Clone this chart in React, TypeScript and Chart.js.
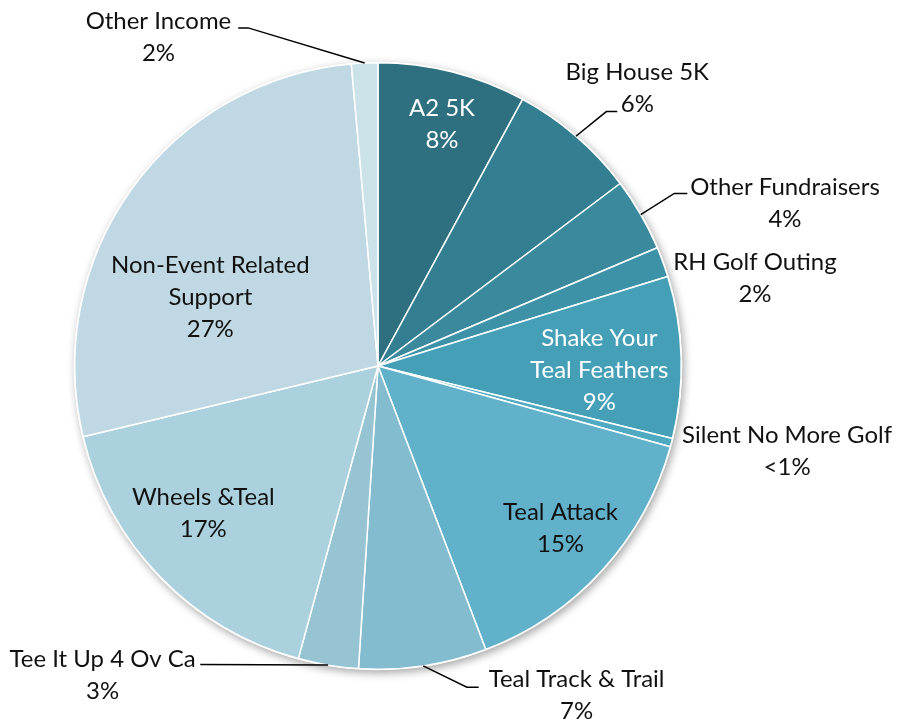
import React, { useEffect, useRef } from "react";
import { Chart, registerables } from "chart.js";

Chart.register(...registerables);

const categories = [
  "A2 5K",
  "Big House 5K",
  "Other Fundraisers",
  "RH Golf Outing",
  "Shake Your Teal Feathers",
  "Silent No More Golf",
  "Teal Attack",
  "Teal Track & Trail",
  "Tee It Up 4 Ov Ca",
  "Wheels &Teal",
  "Non-Event Related Support",
  "Other Income",
];

const shares = [7.9, 6.8, 3.9, 1.6, 8.6, 0.45, 14.9, 6.8, 3.2, 17.0, 27.3, 1.4];

const percentLabels = ["8%", "6%", "4%", "2%", "9%", "<1%", "15%", "7%", "3%", "17%", "27%", "2%"];

const labelLines = [
  ["A2 5K"],
  ["Big House 5K"],
  ["Other Fundraisers"],
  ["RH Golf Outing"],
  ["Shake Your", "Teal Feathers"],
  ["Silent No More Golf"],
  ["Teal Attack"],
  ["Teal Track & Trail"],
  ["Tee It Up 4 Ov Ca"],
  ["Wheels &Teal"],
  ["Non-Event Related", "Support"],
  ["Other Income"],
];

const colors = [
  "#2E6F80",
  "#347E92",
  "#3A899D",
  "#3E92A8",
  "#459FB7",
  "#4FA9C1",
  "#62B1CB",
  "#84BCCF",
  "#97C4D3",
  "#ABD0DE",
  "#BFD8E3",
  "#CCE2E9",
];

// label layout: first line centre, in radius units relative to pie centre
type LabelLayout = {
  pos: [number, number];
  color: string;
  leader?: [number, number][];
};

const labelLayout: LabelLayout[] = [
  { pos: [0.211, -0.849], color: "#ffffff" },
  { pos: [0.855, -0.967], color: "#111111", leader: [[0.753, -0.839], [0.789, -0.839]] },
  { pos: [1.342, -0.589], color: "#111111", leader: [[0.977, -0.569], [1.02, -0.569]] },
  { pos: [1.243, -0.342], color: "#111111" },
  { pos: [0.73, -0.092], color: "#ffffff" },
  { pos: [1.349, 0.227], color: "#111111" },
  { pos: [0.602, 0.484], color: "#111111" },
  { pos: [0.655, 1.033], color: "#111111", leader: [[0.293, 1.059], [0.332, 1.059]] },
  { pos: [-0.908, 0.967], color: "#111111", leader: [[-0.586, 0.984]] },
  { pos: [-0.576, 0.434], color: "#111111" },
  { pos: [-0.553, -0.332], color: "#111111" },
  { pos: [-0.724, -1.138], color: "#111111", leader: [[-0.428, -1.115], [-0.461, -1.115]] },
];

const FONT_FAMILY = "Lato, 'Noto Sans', sans-serif";

const shadowPlugin = {
  id: "pieShadow",
  beforeDatasetsDraw(chart: any) {
    const meta = chart.getDatasetMeta(0);
    const arc = meta.data[0];
    if (!arc) return;
    const ctx = chart.ctx;
    ctx.save();
    ctx.shadowColor = "rgba(0,0,0,0.35)";
    ctx.shadowBlur = 8;
    ctx.shadowOffsetX = 2;
    ctx.shadowOffsetY = 3;
    ctx.fillStyle = "#ffffff";
    ctx.beginPath();
    ctx.arc(arc.x, arc.y, arc.outerRadius + 1, 0, Math.PI * 2);
    ctx.fill();
    ctx.restore();
  },
};

const labelPlugin = {
  id: "pieLabels",
  afterDatasetsDraw(chart: any) {
    const meta = chart.getDatasetMeta(0);
    const arcs = meta.data;
    if (!arcs.length) return;
    const ctx = chart.ctx;
    const cx = arcs[0].x;
    const cy = arcs[0].y;
    const R = arcs[0].outerRadius;
    ctx.save();
    ctx.font = `100px ${FONT_FAMILY}`;
    const w = ctx.measureText("Silent No More Golf").width;
    const size = (100 * 210) / w;
    const lineH = 32;
    ctx.font = `${size.toFixed(2)}px ${FONT_FAMILY}`;
    ctx.textAlign = "center";
    ctx.textBaseline = "middle";
    arcs.forEach((a: any, i: number) => {
      const lay = labelLayout[i];
      if (!lay) return;
      if (lay.leader) {
        const mid = (a.startAngle + a.endAngle) / 2;
        ctx.strokeStyle = "#000000";
        ctx.lineWidth = 1.5;
        ctx.beginPath();
        ctx.moveTo(cx + R * Math.cos(mid), cy + R * Math.sin(mid));
        lay.leader.forEach((p) => ctx.lineTo(cx + p[0] * R, cy + p[1] * R));
        ctx.stroke();
      }
      const lines = [...labelLines[i], percentLabels[i]];
      const x = cx + lay.pos[0] * R;
      const y = cy + lay.pos[1] * R;
      ctx.fillStyle = lay.color;
      lines.forEach((t, k) => ctx.fillText(t, x, y + k * lineH));
    });
    ctx.restore();
  },
};

export default function App() {
  const ref = useRef<HTMLCanvasElement | null>(null);
  useEffect(() => {
    if (!ref.current) return;
    const chart = new Chart(ref.current, {
      type: "pie",
      data: {
        labels: categories,
        datasets: [
          {
            data: shares,
            backgroundColor: colors,
            borderColor: "#ffffff",
            borderWidth: 1.5,
          },
        ],
      },
      options: {
        responsive: false,
        animation: false,
        layout: { padding: { left: 74, right: 221, top: 62, bottom: 58 } },
        plugins: {
          legend: { display: false },
          tooltip: { enabled: false },
        },
      },
      plugins: [shadowPlugin, labelPlugin],
    });
    return () => chart.destroy();
  }, []);
  return (
    <div style={{ position: "fixed", left: 0, top: 0, width: 903, height: 728, background: "#fff" }}>
      <canvas ref={ref} width={903} height={728} />
    </div>
  );
}
